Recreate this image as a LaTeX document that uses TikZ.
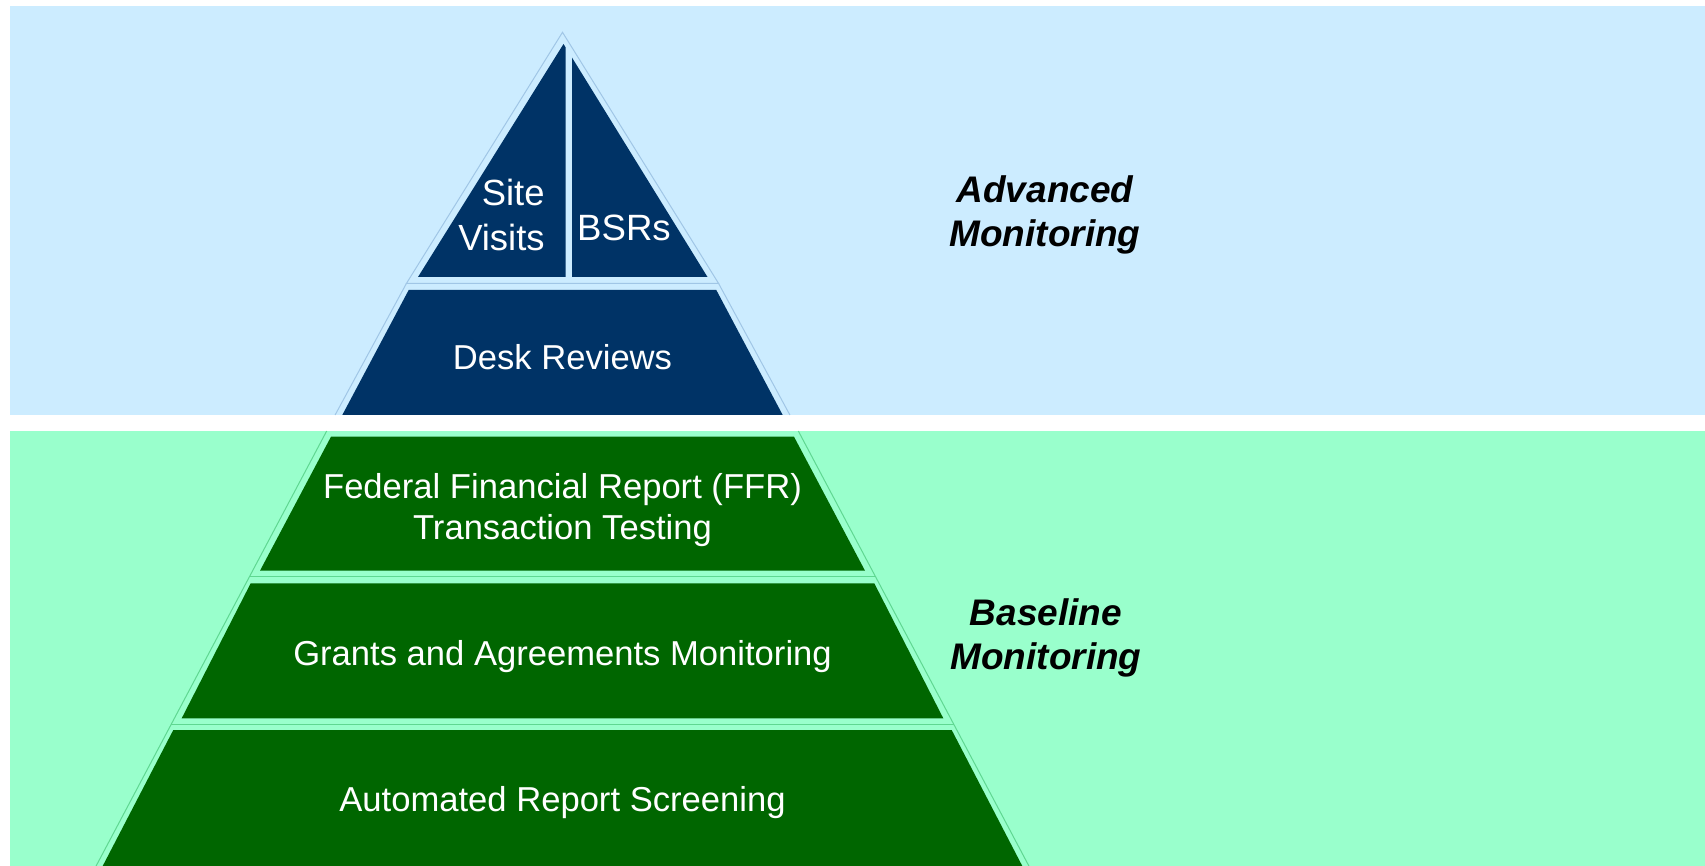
\documentclass[tikz,border=0pt]{standalone}
\usepackage{fontspec}
\setmainfont{Liberation Sans}
\definecolor{skyband}{RGB}{204,236,255}
\definecolor{mintband}{RGB}{153,255,204}
\definecolor{navy}{RGB}{0,51,102}
\definecolor{forest}{RGB}{0,102,0}
\definecolor{skyline}{RGB}{160,198,230}
\definecolor{mintline}{RGB}{95,215,145}
\tikzset{every picture/.style = {x=0.5pt, y=-0.5pt}}
\tikzset{tier/.style = {text=white, font=\fontsize{17.3}{20.5}\selectfont, align=center, inner sep=0}}
\tikzset{level/.style = {font=\fontsize{18.5}{22.3}\selectfont\bfseries\itshape, align=center, inner sep=0}}

\begin{document}
\begin{tikzpicture}
  \useasboundingbox (0,0) rectangle (1705,866);
  % bands
  \fill[skyband] (10,6) rectangle (1705,415);
  \fill[mintband] (10,431) rectangle (1705,866);

  % outer outlines of the tiers
  \draw[skyline, line width=0.5] (562.5,32.3) -- (718.5,283.3)
    -- (406.5,283.3) -- cycle;
  \draw[skyline, line width=0.5] (718.5,283.3) -- (789.9,415)
    (406.5,283.3) -- (335.1,415);
  \draw[mintline, line width=0.5] (326.7,431) -- (96.1,866)
    (798.3,431) -- (1028.9,866);
  \draw[mintline, line width=0.5] (249.4,576.7) -- (875.6,576.7)
    (171.4,724) -- (953.6,724);

  % advanced tiers
  \fill[navy] (418,277) -- (563.5,44) -- (565.7,47.5)
    -- (565.7,277) -- cycle;
  \fill[navy] (572,57.6) -- (707.5,277) -- (572,277) -- cycle;
  \fill[navy] (408.7,290) -- (716.3,290) -- (782.7,415)
    -- (342.3,415) -- cycle;

  % baseline tiers
  \fill[forest] (331,436.7) -- (794,436.7) -- (865,570.7)
    -- (260,570.7) -- cycle;
  \fill[forest] (250.7,583.3) -- (874.3,583.3) -- (943.3,718.3)
    -- (181.7,718.3) -- cycle;
  \fill[forest] (173.3,730) -- (951.7,730) -- (1022.3,866)
    -- (102.7,866) -- cycle;

  % labels
  \node(site)[tier, align=right, anchor=east, font=\fontsize{18.2}{22.5}\selectfont]
    at (545,215) {Site\\Visits};
  \node(bsr)[tier, font=\fontsize{18.3}{22.5}\selectfont] at (624,228) {BSRs};
  \node(desk)[tier] at (562.5,357) {Desk Reviews};
  \node(ffr)[tier] at (562.5,510) {Federal Financial Report (FFR)\\Transaction Testing};
  \node(grants)[tier] at (562.5,656.5) {Grants and Agreements Monitoring};
  \node(screen)[tier] at (562.5,802.5) {Automated Report Screening};

  \node(advanced)[level] at (1045,215) {Advanced\\Monitoring};
  \node(baseline)[level] at (1046,638) {Baseline\\Monitoring};
\end{tikzpicture}
\end{document}
